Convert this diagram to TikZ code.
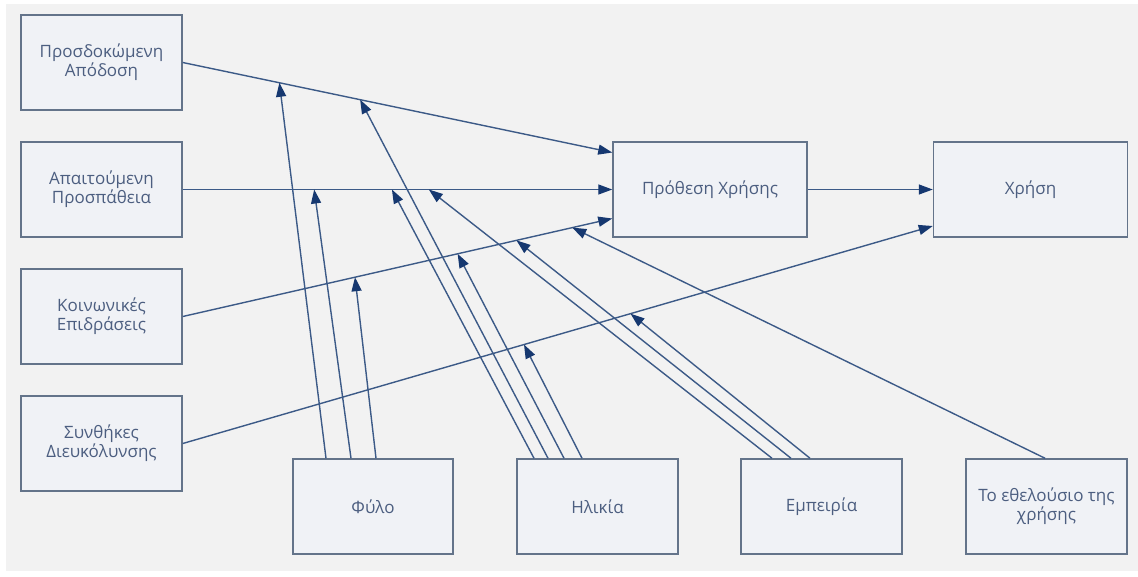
\documentclass[tikz,border=0pt]{standalone}
\usepackage{fontspec}
\setmainfont{Open Sans}
\usetikzlibrary{arrows.meta}
\definecolor{boxline}{RGB}{100,116,138}
\definecolor{boxfill}{RGB}{240,242,246}
\definecolor{bgc}{RGB}{242,242,242}
\definecolor{conn}{RGB}{60,90,135}
\definecolor{tipc}{RGB}{22,56,112}
\definecolor{txt}{RGB}{76,94,128}

\begin{document}
\begin{tikzpicture}[
      x=1pt,y=-1pt,
      B/.style={draw=boxline,fill=boxfill,line width=1.5pt,minimum width=161pt,minimum height=95pt,
        inner sep=0pt,align=center,text=txt,font=\fontsize{17}{19}\selectfont},
      W/.style={B,minimum width=194pt},
      arr/.style={draw=conn,line width=1.4pt,-{Triangle[length=14pt,width=10pt,color=tipc]}}]
    \useasboundingbox (0,0) rectangle (1138,576);
    \fill[white] (0,0) rectangle (1138,576);
    \fill[bgc] (6,4) rectangle (1138,571);
    % constructs
    \node[B] (PE) at (101.5,62.5) {Προσδοκώμενη\\Απόδοση};
    \node[B] (EE) at (101.5,189.5) {Απαιτούμενη\\Προσπάθεια};
    \node[B] (SI) at (101.5,316.5) {Κοινωνικές\\Επιδράσεις};
    \node[B] (FC) at (101.5,443.5) {Συνθήκες\\Διευκόλυνσης};
    \node[W] (BI) at (710,189.5) {Πρόθεση Χρήσης};
    \node[W] (US) at (1030.5,189.5) {Χρήση};
    % moderators
    \node[B,minimum width=160pt] (Gen) at (373,506.5) {Φύλο};
    \node[B] (Age) at (597.5,506.5) {Ηλικία};
    \node[B] (Exp) at (821.5,506.5) {Εμπειρία};
    \node[B] (Vol) at (1046.5,506.5) {Το εθελούσιο της\\χρήσης};
    % main paths
    \draw[arr] (PE.east) -- coordinate[pos=.225] (pe1) coordinate[pos=.413] (pe2) ([yshift=37pt]BI.west);
    \draw[arr] (EE.east) -- coordinate[pos=.306] (ee1) coordinate[pos=.487] (ee2) coordinate[pos=.573] (ee3) (BI.west);
    \draw[arr] (SI.east) -- coordinate[pos=.401] (si1) coordinate[pos=.640] (si2) coordinate[pos=.777] (si3)
      coordinate[pos=.907] (si4) ([yshift=-29pt]BI.west);
    \draw[arr] (FC.east) -- coordinate[pos=.455] (fc1) coordinate[pos=.597] (fc2) ([yshift=-36.5pt]US.west);
    \draw[arr] (BI) -- (US);
    % moderating effects
    \draw[arr] ([xshift=-47pt]Gen.north) -- (pe1);
    \draw[arr] ([xshift=-22pt]Gen.north) -- (ee1);
    \draw[arr] ([xshift=3pt]Gen.north) -- (si1);
    \draw[arr] ([xshift=-63.5pt]Age.north) -- (ee2);
    \draw[arr] ([xshift=-49.5pt]Age.north) -- (pe2);
    \draw[arr] ([xshift=-33.5pt]Age.north) -- (si2);
    \draw[arr] ([xshift=-15.5pt]Age.north) -- (fc1);
    \draw[arr] ([xshift=-49.5pt]Exp.north) -- (ee3);
    \draw[arr] ([xshift=-30.5pt]Exp.north) -- (si3);
    \draw[arr] ([xshift=-11.5pt]Exp.north) -- (fc2);
    \draw[arr] ([xshift=-1.5pt]Vol.north) -- (si4);
  \end{tikzpicture}
\end{document}
